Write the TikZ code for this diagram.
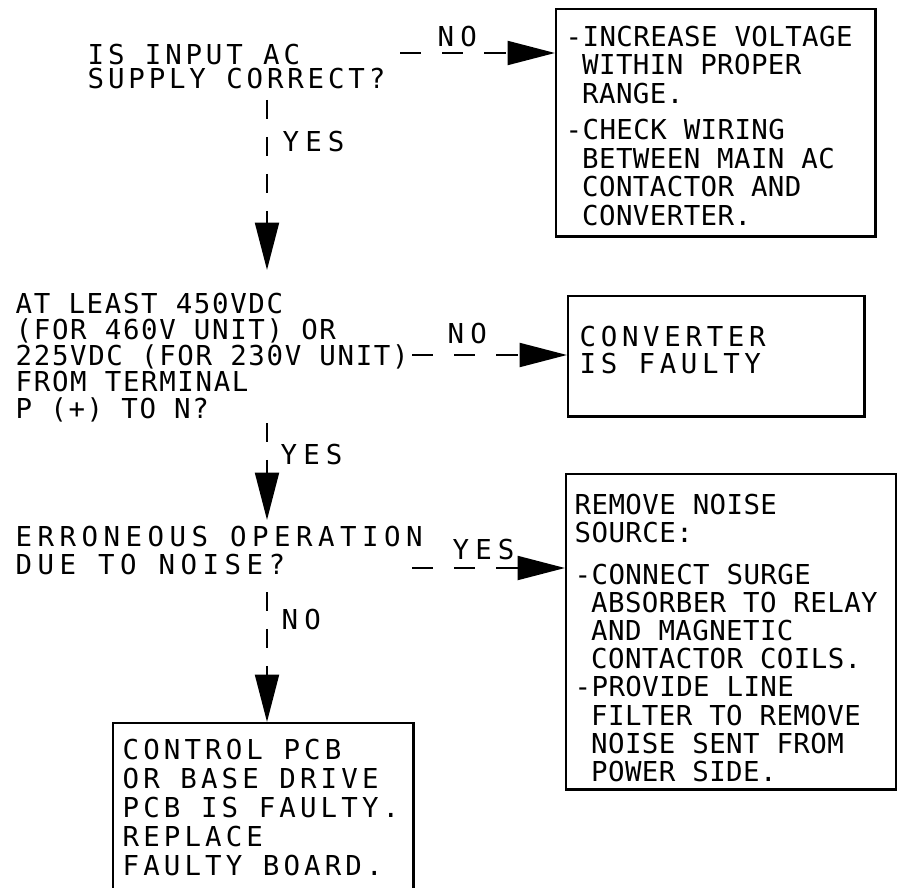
\documentclass[tikz,border=0pt]{standalone}
\usepackage{fontspec}
\usepackage{tikz}
\usetikzlibrary{positioning, arrows.meta, calc}

% plotter-like lettering: #1 = letter spacing, #2 = line distance
\newcommand\plotfont[2]{\fontspec{DejaVu Sans Mono}[LetterSpace=#1]\fontsize{7.8pt}{#2}\selectfont}
\newcommand\skipdash{\phantom{-}}

\tikzset{
  quest/.style={inner sep=0pt, anchor=north west, align=left},
  lbl/.style={inner sep=0pt, anchor=north west, font=\plotfont{22}{8pt}},
  flowbox/.style={draw, line width=0.7pt, anchor=north west, inner sep=0pt},
  flow/.style={line width=0.7pt, -{Triangle[length=13.5pt,width=6.8pt]}},
  hflow/.style={flow, dash pattern=on 6pt off 6pt},
  vflow/.style={flow, dash pattern=on 5.4pt off 5.1pt}
}

\begin{document}
\begin{tikzpicture}[x=0.01cm, y=-0.01cm]
  \useasboundingbox (0,0) rectangle (897,888);

  % questions
  \node[quest, font=\plotfont{14}{7pt}] (q1) at (87,43) {IS INPUT AC\\SUPPLY CORRECT?};
  \node[quest, font=\plotfont{6}{7.47pt}] (q2) at (15,292)
    {AT LEAST 450VDC\\(FOR 460V UNIT) OR\\225VDC (FOR 230V UNIT)\\FROM TERMINAL\\P (+) TO N?};
  \node[quest, font=\plotfont{20}{8pt}] (q3) at (15,525) {ERRONEOUS OPERATION\\DUE TO NOISE?};

  % boxes
  \node[flowbox, minimum width=3.19cm, minimum height=2.27cm] (b1) at (555,8) {};
  \node[quest, font=\plotfont{1.5}{8.1pt}] (t1) at (565,25)
    {-INCREASE VOLTAGE\\\skipdash WITHIN PROPER\\\skipdash RANGE.\\[2.3pt]
     -CHECK WIRING\\\skipdash BETWEEN MAIN AC\\\skipdash CONTACTOR AND\\\skipdash CONVERTER.};

  \node[flowbox, minimum width=2.96cm, minimum height=1.20cm] (b2) at (567,295) {};
  \node[quest, font=\plotfont{17}{7.7pt}] (t2) at (579,325) {CONVERTER\\IS FAULTY};

  \node[flowbox, minimum width=3.30cm, minimum height=3.15cm] (b3) at (565,473) {};
  \node[quest, font=\plotfont{1.5}{8pt}] (t3) at (574,493)
    {REMOVE NOISE\\SOURCE:\\[4pt]
     -CONNECT SURGE\\\skipdash ABSORBER TO RELAY\\\skipdash AND MAGNETIC\\\skipdash CONTACTOR COILS.\\
     -PROVIDE LINE\\\skipdash FILTER TO REMOVE\\\skipdash NOISE SENT FROM\\\skipdash POWER SIDE.};

  \node[flowbox, minimum width=3.00cm, minimum height=1.70cm] (b4) at (112,722) {};
  \node[quest, font=\plotfont{15}{8.3pt}] (t4) at (122,738)
    {CONTROL PCB\\OR BASE DRIVE\\PCB IS FAULTY.\\REPLACE\\FAULTY BOARD.};

  % connectors
  \coordinate (h1) at (400,53);
  \coordinate (h2) at (412,355);
  \coordinate (h3) at (412,568);
  \draw[hflow] (h1) -- (h1 -| b1.west);
  \draw[hflow] (h2) -- (h2 -| b2.west);
  \draw[hflow] (h3) -- (h3 -| b3.west);

  \coordinate (v1) at (267,100);
  \coordinate (v1e) at (267,270);
  \coordinate (v2) at (267,423);
  \coordinate (v2e) at (267,520);
  \coordinate (v3) at (267,592);
  \draw[vflow] (v1) -- (v1e);
  \draw[vflow] (v2) -- (v2e);
  \draw[vflow] (v3) -- (v3 |- b4.north);

  % answers
  \node[lbl] (no1) at (437,25) {NO};
  \node[lbl] (yes1) at (282,130) {YES};
  \node[lbl] (no2) at (447,322) {NO};
  \node[lbl] (yes2) at (280,443) {YES};
  \node[lbl] (yes3) at (452,538) {YES};
  \node[lbl] (no3) at (281,608) {NO};
\end{tikzpicture}
\end{document}
